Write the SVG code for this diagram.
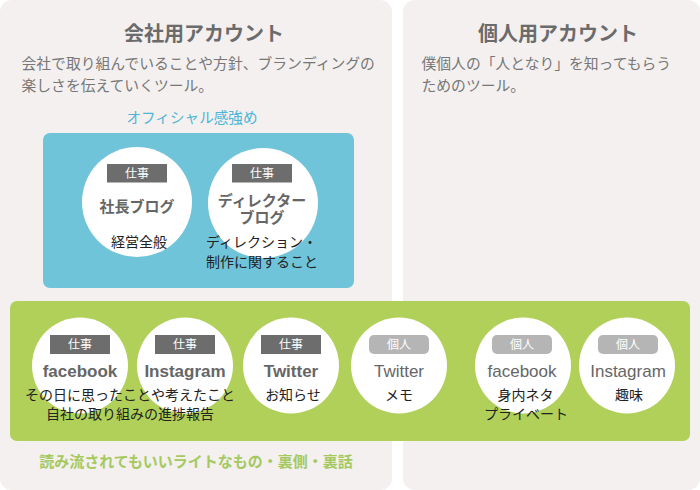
<svg xmlns="http://www.w3.org/2000/svg" width="700" height="490" viewBox="0 0 700 490">
<style>
text{font-family:"Liberation Sans","Noto Sans CJK JP",sans-serif}
.panel{fill:#f3f0ef}
.title{font-size:20px;font-weight:bold;fill:#6b6b6b;text-anchor:middle}
.desc{font-size:14.8px;fill:#777}
.circ{fill:#fff}
.work{fill:#6d6d6d}
.pers{fill:#b5b5b5}
.tag{font-size:12px;fill:#fff;text-anchor:middle}
.nameB{font-size:15px;font-weight:bold;fill:#666;text-anchor:middle}
.sns{font-size:17px;font-weight:bold;fill:#666;text-anchor:middle}
.snsR{font-size:17px;fill:#666;text-anchor:middle}
.note{font-size:14px;fill:#222}
.mid{text-anchor:middle}
</style>
<rect width="700" height="490" fill="#fff"/>
<g id="company-panel">
<rect class="panel" x="0" y="0" width="392" height="490" rx="12"/>
<text class="title" x="204" y="40.5">会社用アカウント</text>
<text class="desc" x="21.5" y="69">会社で取り組んでいることや方針、ブランディングの</text>
<text class="desc" x="21.5" y="90.5">楽しさを伝えていくツール。</text>
<text x="192" y="123" font-size="14.6" fill="#4db5d5" text-anchor="middle">オフィシャル感強め</text>
</g>
<g id="personal-panel">
<rect class="panel" x="403" y="0" width="297" height="490" rx="12"/>
<text class="title" x="558" y="40.5">個人用アカウント</text>
<text class="desc" x="421.5" y="69">僕個人の「人となり」を知ってもらう</text>
<text class="desc" x="421.5" y="90.5">ためのツール。</text>
</g>
<g id="official-box">
<rect x="43" y="133" width="311" height="155" rx="7" fill="#6fc4d9"/>
</g>
<g id="light-band">
<rect x="10" y="301" width="680" height="140" rx="7" fill="#abcd50" fill-opacity="0.94"/>
<text x="196" y="466.5" font-size="15" font-weight="bold" fill="#a5c95f" text-anchor="middle">読み流されてもいいライトなもの・裏側・裏話</text>
</g>
<g id="node-president-blog">
<circle class="circ" cx="137" cy="202" r="55"/>
<rect class="work" x="107" y="164" width="60" height="18.5"/>
<text class="tag" x="137" y="178">仕事</text>
<text class="nameB" x="137" y="211.5">社長ブログ</text>
<text class="note mid" x="139" y="247">経営全般</text>
</g>
<g id="node-director-blog">
<circle class="circ" cx="263" cy="203" r="55"/>
<rect class="work" x="232" y="164" width="60" height="18.5"/>
<text class="tag" x="262" y="178">仕事</text>
<text class="nameB" x="262" y="205.5">ディレクター</text>
<text class="nameB" x="262" y="222.5">ブログ</text>
<text class="note" x="206" y="247">ディレクション・</text>
<text class="note" x="206" y="267">制作に関すること</text>
</g>
<g id="node-work-facebook">
<circle class="circ" cx="80" cy="365.5" r="48"/>
<rect class="work" x="50" y="335" width="60" height="19"/>
<text class="tag" x="80" y="349">仕事</text>
<text class="sns" x="80" y="377">facebook</text>
</g>
<g id="node-work-instagram">
<circle class="circ" cx="185" cy="365.5" r="48"/>
<rect class="work" x="155" y="335" width="60" height="19"/>
<text class="tag" x="185" y="349">仕事</text>
<text class="sns" x="185" y="377">Instagram</text>
</g>
<g id="work-fb-ig-note">
<text class="note mid" x="130" y="400">その日に思ったことや考えたこと</text>
<text class="note mid" x="130" y="419">自社の取り組みの進捗報告</text>
</g>
<g id="node-work-twitter">
<circle class="circ" cx="291" cy="365.5" r="48"/>
<rect class="work" x="261" y="335" width="60" height="19"/>
<text class="tag" x="291" y="349">仕事</text>
<text class="sns" x="291" y="377">Twitter</text>
<text class="note mid" x="293" y="400">お知らせ</text>
</g>
<g id="node-personal-twitter">
<circle class="circ" cx="399" cy="365.5" r="48"/>
<rect class="pers" x="369" y="335" width="60" height="19" rx="5"/>
<text class="tag" x="399" y="349">個人</text>
<text class="snsR" x="399" y="377">Twitter</text>
<text class="note mid" x="399" y="400">メモ</text>
</g>
<g id="node-personal-facebook">
<circle class="circ" cx="523" cy="365.5" r="48"/>
<rect class="pers" x="492" y="335" width="60" height="19" rx="5"/>
<text class="tag" x="522" y="349">個人</text>
<text class="snsR" x="522" y="377">facebook</text>
<text class="note mid" x="525.5" y="400">身内ネタ</text>
<text class="note mid" x="526" y="419">プライベート</text>
</g>
<g id="node-personal-instagram">
<circle class="circ" cx="627" cy="365.5" r="48"/>
<rect class="pers" x="598" y="335" width="60" height="19" rx="5"/>
<text class="tag" x="628" y="349">個人</text>
<text class="snsR" x="628" y="377">Instagram</text>
<text class="note mid" x="629" y="400">趣味</text>
</g>
<g id="connectors"></g>
</svg>
